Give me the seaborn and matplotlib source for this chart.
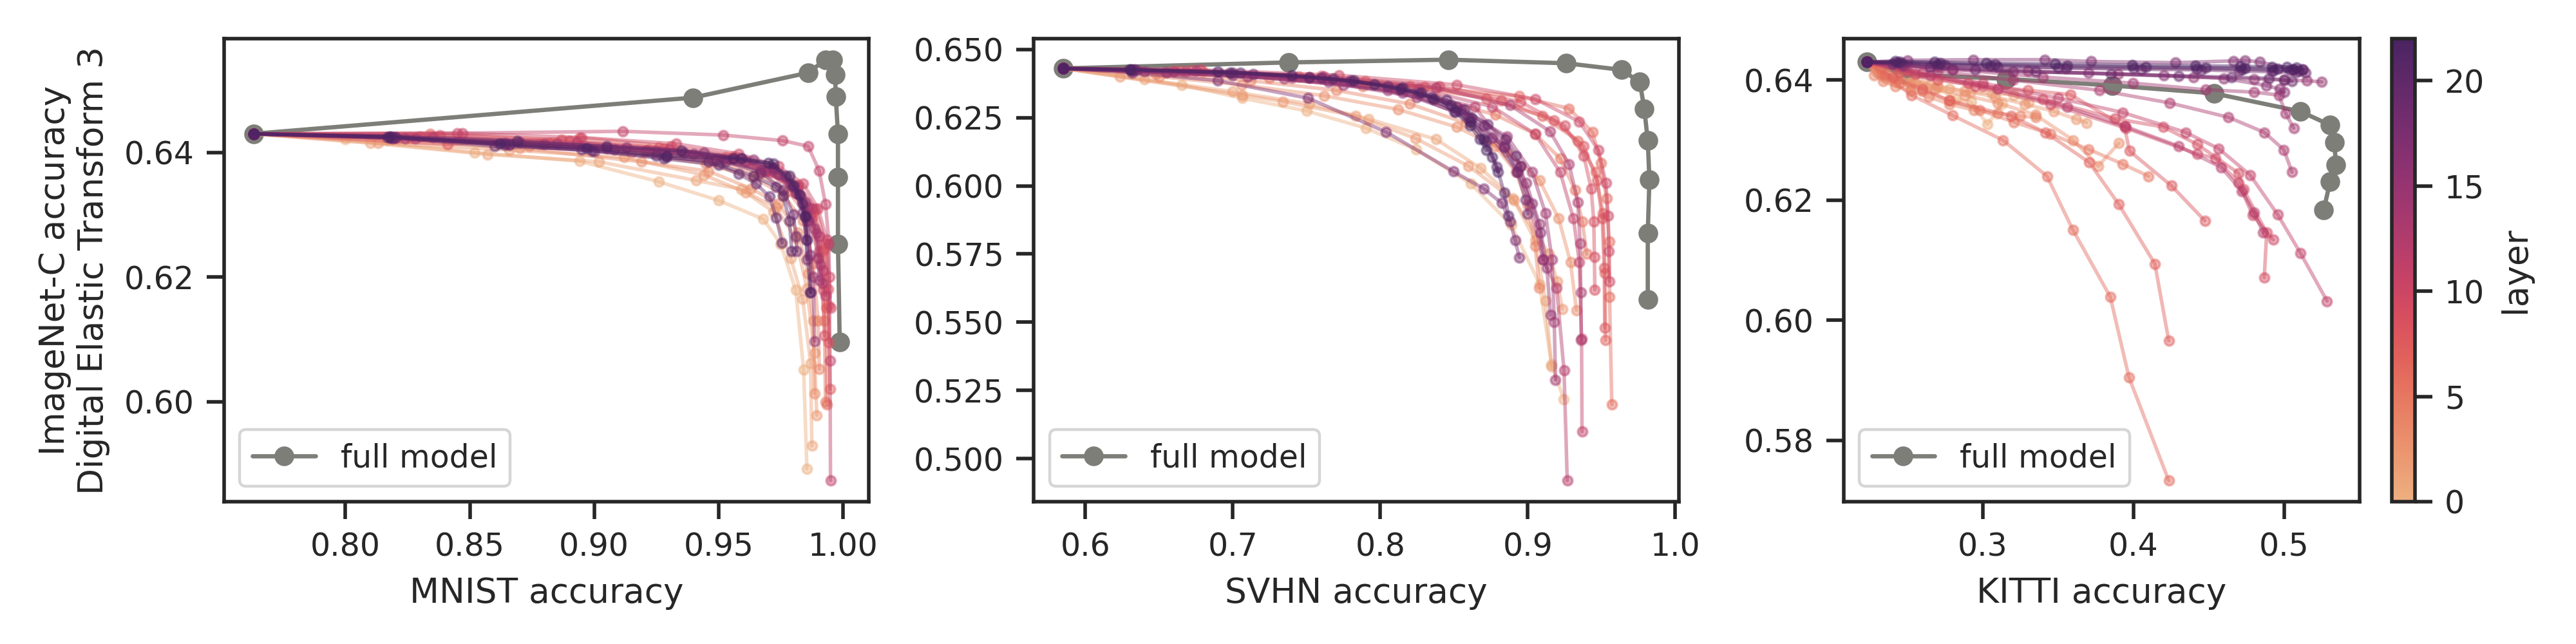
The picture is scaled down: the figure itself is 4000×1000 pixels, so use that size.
import numpy as np
import pandas as pd
import seaborn as sns
import matplotlib.pyplot as plt
from matplotlib.colors import Normalize
from matplotlib.cm import ScalarMappable

### data ###

layers = list(range(23))

# full model interpolation curves
mnist_full_x = [0.763, 0.9396, 0.986, 0.993, 0.996, 0.9969, 0.9971, 0.998, 0.998, 0.998, 0.9987]
mnist_full_y = [0.643, 0.6488, 0.6528, 0.6549, 0.6549, 0.6525, 0.649, 0.643, 0.636, 0.6253, 0.6096]

svhn_full_x = [0.585, 0.738, 0.846, 0.926, 0.9635, 0.976, 0.979, 0.9814, 0.9825, 0.9814, 0.9814]
svhn_full_y = [0.643, 0.6452, 0.6462, 0.6449, 0.6425, 0.638, 0.6283, 0.6166, 0.6023, 0.5826, 0.5584]

kitti_full_x = [0.2231, 0.2465, 0.3156, 0.3859, 0.4533, 0.5107, 0.5306, 0.5333, 0.5344, 0.5305, 0.5263]
kitti_full_y = [0.643, 0.641, 0.6402, 0.6391, 0.6378, 0.6348, 0.6325, 0.6296, 0.6259, 0.6231, 0.6184]

# per-layer curves (one list per layer 0..22)
mnist_x = [
    [0.763, 0.800, 0.852, 0.894, 0.926, 0.950, 0.968, 0.975, 0.981, 0.9842, 0.9855],
    [0.763, 0.810, 0.857, 0.902, 0.941, 0.959, 0.972, 0.979, 0.9838, 0.9870, 0.9875],
    [0.763, 0.813, 0.866, 0.912, 0.944, 0.961, 0.973, 0.981, 0.9855, 0.9885, 0.9895],
    [0.763, 0.817, 0.870, 0.919, 0.946, 0.963, 0.974, 0.982, 0.9860, 0.9880, 0.9885],
    [0.763, 0.821, 0.874, 0.915, 0.945, 0.964, 0.976, 0.984, 0.9880, 0.9900, 0.9905],
    [0.763, 0.826, 0.878, 0.920, 0.948, 0.966, 0.978, 0.986, 0.9905, 0.9925, 0.9930],
    [0.763, 0.830, 0.882, 0.922, 0.950, 0.968, 0.980, 0.987, 0.9915, 0.9932, 0.9936],
    [0.763, 0.834, 0.887, 0.926, 0.953, 0.970, 0.981, 0.988, 0.9925, 0.9942, 0.9948],
    [0.763, 0.841, 0.894, 0.931, 0.956, 0.972, 0.982, 0.989, 0.9930, 0.9940, 0.9944],
    [0.763, 0.838, 0.890, 0.928, 0.955, 0.971, 0.9815, 0.9875, 0.9905, 0.9920, 0.9926],
    [0.763, 0.845, 0.895, 0.933, 0.958, 0.974, 0.984, 0.990, 0.9935, 0.9945, 0.9950],
    [0.763, 0.847, 0.9115, 0.9519, 0.9758, 0.986, 0.9904, 0.9930, 0.9944, 0.9948, 0.9950],
    [0.763, 0.835, 0.893, 0.930, 0.956, 0.972, 0.982, 0.9875, 0.9905, 0.9920, 0.9930],
    [0.763, 0.828, 0.885, 0.925, 0.952, 0.969, 0.980, 0.986, 0.9895, 0.9910, 0.9918],
    [0.763, 0.824, 0.880, 0.921, 0.949, 0.967, 0.979, 0.985, 0.9885, 0.9900, 0.9905],
    [0.763, 0.819, 0.866, 0.908, 0.940, 0.961, 0.974, 0.981, 0.9855, 0.9880, 0.9886],
    [0.763, 0.820, 0.870, 0.913, 0.944, 0.964, 0.977, 0.983, 0.9860, 0.9868, 0.9870],
    [0.763, 0.818, 0.864, 0.905, 0.936, 0.959, 0.972, 0.980, 0.9840, 0.9852, 0.9855],
    [0.763, 0.819, 0.866, 0.900, 0.929, 0.953, 0.967, 0.976, 0.9800, 0.9812, 0.9814],
    [0.763, 0.818, 0.860, 0.895, 0.925, 0.946, 0.958, 0.965, 0.9705, 0.9732, 0.9755],
    [0.763, 0.820, 0.864, 0.899, 0.928, 0.950, 0.964, 0.973, 0.9760, 0.9785, 0.9794],
    [0.763, 0.818, 0.869, 0.905, 0.935, 0.959, 0.972, 0.980, 0.9838, 0.9850, 0.9855],
    [0.763, 0.817, 0.862, 0.897, 0.929, 0.956, 0.970, 0.9785, 0.9824, 0.9847, 0.9869],
]
mnist_y = [
    [0.643, 0.6421, 0.6400, 0.6386, 0.6353, 0.6323, 0.6293, 0.6253, 0.6179, 0.6051, 0.5892],
    [0.643, 0.6415, 0.6397, 0.6385, 0.6355, 0.6341, 0.6305, 0.6230, 0.6165, 0.6062, 0.5929],
    [0.643, 0.6415, 0.6404, 0.6392, 0.6364, 0.6336, 0.6312, 0.6262, 0.6182, 0.6078, 0.5978],
    [0.643, 0.6420, 0.6407, 0.6385, 0.6370, 0.6342, 0.6318, 0.6272, 0.6205, 0.6130, 0.6013],
    [0.643, 0.6422, 0.6410, 0.6400, 0.6382, 0.6360, 0.6332, 0.6290, 0.6222, 0.6130, 0.6052],
    [0.643, 0.6424, 0.6413, 0.6402, 0.6386, 0.6365, 0.6338, 0.6296, 0.6230, 0.6130, 0.6000],
    [0.643, 0.6426, 0.6415, 0.6405, 0.6390, 0.6370, 0.6343, 0.6300, 0.6240, 0.6150, 0.5995],
    [0.643, 0.6430, 0.6420, 0.6408, 0.6393, 0.6372, 0.6345, 0.6305, 0.6245, 0.6154, 0.6020],
    [0.643, 0.6413, 0.6424, 0.6410, 0.6394, 0.6375, 0.6348, 0.6310, 0.6254, 0.6180, 0.6095],
    [0.643, 0.6428, 0.6418, 0.6406, 0.6390, 0.6368, 0.6335, 0.6295, 0.6242, 0.6179, 0.6106],
    [0.643, 0.6431, 0.6424, 0.6414, 0.6398, 0.6378, 0.6350, 0.6310, 0.6260, 0.6200, 0.6150],
    [0.643, 0.6431, 0.6434, 0.6428, 0.6419, 0.6410, 0.6371, 0.6317, 0.6253, 0.6066, 0.5873],
    [0.643, 0.6425, 0.6416, 0.6405, 0.6390, 0.6372, 0.6345, 0.6310, 0.6265, 0.6210, 0.6170],
    [0.643, 0.6423, 0.6414, 0.6403, 0.6388, 0.6370, 0.6345, 0.6312, 0.6270, 0.6220, 0.6190],
    [0.643, 0.6422, 0.6413, 0.6403, 0.6388, 0.6372, 0.6350, 0.6320, 0.6278, 0.6230, 0.6195],
    [0.643, 0.6423, 0.6413, 0.6405, 0.6398, 0.6386, 0.6365, 0.6335, 0.6290, 0.6200, 0.6097],
    [0.643, 0.6424, 0.6416, 0.6408, 0.6400, 0.6388, 0.6362, 0.6330, 0.6290, 0.6235, 0.6175],
    [0.643, 0.6425, 0.6415, 0.6407, 0.6400, 0.6390, 0.6375, 0.6345, 0.6305, 0.6260, 0.6228],
    [0.643, 0.6424, 0.6412, 0.6402, 0.6392, 0.6385, 0.6368, 0.6340, 0.6300, 0.6265, 0.6242],
    [0.643, 0.6424, 0.6410, 0.6405, 0.6395, 0.6385, 0.6366, 0.6350, 0.6329, 0.6295, 0.6255],
    [0.643, 0.6425, 0.6412, 0.6403, 0.6390, 0.6380, 0.6362, 0.6345, 0.6330, 0.6290, 0.6242],
    [0.643, 0.6426, 0.6418, 0.6410, 0.6403, 0.6390, 0.6382, 0.6347, 0.6318, 0.6297, 0.6259],
    [0.643, 0.6425, 0.6414, 0.6407, 0.6395, 0.6390, 0.6383, 0.6362, 0.6333, 0.6297, 0.6175],
]

svhn_x = [
    [0.585, 0.6656, 0.7066, 0.7503, 0.7904, 0.8243, 0.8614, 0.8888, 0.9081, 0.9161, 0.9245],
    [0.585, 0.640, 0.700, 0.752, 0.792, 0.838, 0.868, 0.890, 0.905, 0.912, 0.9162],
    [0.585, 0.6237, 0.7066, 0.7339, 0.7831, 0.8239, 0.8596, 0.8906, 0.9143, 0.9200, 0.9234],
    [0.585, 0.650, 0.706, 0.762, 0.812, 0.852, 0.886, 0.908, 0.921, 0.929, 0.9330],
    [0.585, 0.648, 0.712, 0.770, 0.820, 0.858, 0.878, 0.892, 0.900, 0.905, 0.9079],
    [0.585, 0.655, 0.725, 0.788, 0.838, 0.878, 0.905, 0.922, 0.932, 0.937, 0.9400],
    [0.585, 0.680, 0.790, 0.8943, 0.928, 0.944, 0.9497, 0.9534, 0.9552, 0.9555, 0.9570],
    [0.585, 0.660, 0.745, 0.820, 0.872, 0.910, 0.934, 0.946, 0.951, 0.9525, 0.9527],
    [0.585, 0.665, 0.752, 0.830, 0.882, 0.918, 0.938, 0.947, 0.9505, 0.9518, 0.9522],
    [0.585, 0.672, 0.760, 0.840, 0.895, 0.925, 0.938, 0.943, 0.9448, 0.9452, 0.9455],
    [0.585, 0.678, 0.772, 0.852, 0.905, 0.935, 0.948, 0.953, 0.9545, 0.9550, 0.9553],
    [0.585, 0.668, 0.752, 0.826, 0.876, 0.905, 0.922, 0.931, 0.935, 0.9365, 0.9368],
    [0.585, 0.660, 0.740, 0.812, 0.864, 0.8953, 0.9104, 0.9196, 0.9246, 0.9268],
    [0.585, 0.675, 0.762, 0.838, 0.888, 0.915, 0.928, 0.934, 0.9355, 0.9360, 0.9363],
    [0.585, 0.655, 0.735, 0.805, 0.855, 0.886, 0.903, 0.912, 0.9165, 0.9180, 0.9188],
    [0.585, 0.640, 0.710, 0.775, 0.825, 0.860, 0.884, 0.899, 0.908, 0.913, 0.9154],
    [0.585, 0.632, 0.700, 0.765, 0.815, 0.850, 0.876, 0.893, 0.903, 0.9085, 0.9104],
    [0.585, 0.632, 0.690, 0.7512, 0.804, 0.8495, 0.870, 0.8823, 0.888, 0.8915, 0.8943],
    [0.585, 0.635, 0.714, 0.780, 0.826, 0.852, 0.870, 0.884, 0.893, 0.8985, 0.9000],
    [0.585, 0.633, 0.700, 0.760, 0.805, 0.835, 0.857, 0.873, 0.885, 0.8920, 0.8953],
    [0.585, 0.632, 0.705, 0.768, 0.815, 0.845, 0.862, 0.872, 0.879, 0.8840, 0.8870],
    [0.585, 0.631, 0.698, 0.752, 0.796, 0.828, 0.848, 0.861, 0.870, 0.876, 0.8800],
    [0.585, 0.630, 0.690, 0.740, 0.782, 0.814, 0.836, 0.851, 0.861, 0.8675, 0.8720],
]
svhn_y = [
    [0.643, 0.6369, 0.6321, 0.6274, 0.6211, 0.6133, 0.6008, 0.5857, 0.5639, 0.5346, 0.5218],
    [0.643, 0.6390, 0.6345, 0.6300, 0.6245, 0.6170, 0.6065, 0.5955, 0.5800, 0.5580, 0.5339],
    [0.643, 0.6399, 0.6332, 0.6309, 0.6256, 0.6174, 0.6073, 0.5948, 0.5752, 0.5650, 0.5549],
    [0.643, 0.6400, 0.6370, 0.6330, 0.6280, 0.6215, 0.6125, 0.6020, 0.5880, 0.5720, 0.5544],
    [0.643, 0.6410, 0.6385, 0.6350, 0.6300, 0.6230, 0.6145, 0.6050, 0.5930, 0.5780, 0.5626],
    [0.643, 0.6415, 0.6395, 0.6365, 0.6320, 0.6260, 0.6190, 0.6100, 0.5985, 0.5870, 0.5750],
    [0.643, 0.6418, 0.6383, 0.6328, 0.6283, 0.6196, 0.6083, 0.5955, 0.5797, 0.5594, 0.5199],
    [0.643, 0.6422, 0.6400, 0.6365, 0.6320, 0.6255, 0.6165, 0.6050, 0.5900, 0.5680, 0.5434],
    [0.643, 0.6420, 0.6398, 0.6362, 0.6312, 0.6240, 0.6145, 0.6020, 0.5880, 0.5700, 0.5479],
    [0.643, 0.6423, 0.6402, 0.6365, 0.6308, 0.6220, 0.6110, 0.5990, 0.5870, 0.5740, 0.5619],
    [0.643, 0.6425, 0.6405, 0.6370, 0.6318, 0.6235, 0.6130, 0.6010, 0.5890, 0.5760, 0.5650],
    [0.643, 0.6418, 0.6395, 0.6355, 0.6290, 0.6190, 0.6050, 0.5880, 0.5720, 0.5440, 0.5099],
    [0.643, 0.6418, 0.6395, 0.6352, 0.6290, 0.6071, 0.5729, 0.5626, 0.5324, 0.4920],
    [0.643, 0.6422, 0.6400, 0.6360, 0.6295, 0.6200, 0.6080, 0.5940, 0.5790, 0.5610, 0.5434],
    [0.643, 0.6416, 0.6392, 0.6350, 0.6280, 0.6180, 0.6050, 0.5900, 0.5730, 0.5500, 0.5289],
    [0.643, 0.6418, 0.6400, 0.6370, 0.6325, 0.6250, 0.6145, 0.6010, 0.5860, 0.5700, 0.5526],
    [0.643, 0.6420, 0.6405, 0.6380, 0.6340, 0.6272, 0.6175, 0.6050, 0.5935, 0.5830, 0.5729],
    [0.643, 0.6415, 0.6385, 0.6321, 0.6197, 0.6053, 0.5990, 0.5937, 0.5870, 0.5800, 0.5737],
    [0.643, 0.6423, 0.6410, 0.6385, 0.6340, 0.6290, 0.6220, 0.6140, 0.6050, 0.5950, 0.5898],
    [0.643, 0.6425, 0.6415, 0.6395, 0.6365, 0.6325, 0.6280, 0.6225, 0.6170, 0.6110, 0.6071],
    [0.643, 0.6424, 0.6413, 0.6392, 0.6360, 0.6315, 0.6250, 0.6165, 0.6070, 0.5975, 0.5891],
    [0.643, 0.6425, 0.6415, 0.6398, 0.6372, 0.6340, 0.6295, 0.6235, 0.6170, 0.6105, 0.6050],
    [0.643, 0.6426, 0.6418, 0.6405, 0.6385, 0.6355, 0.6318, 0.6270, 0.6220, 0.6170, 0.6130],
]

kitti_x = [
    [0.2231, 0.2300, 0.2351, 0.2417, 0.2516, 0.2604, 0.2702, 0.2823, 0.2922, 0.3031, 0.3130],
    [0.2231, 0.2290, 0.2360, 0.2440, 0.2540, 0.2650, 0.2780, 0.2920, 0.3060, 0.3207, 0.3305],
    [0.2231, 0.2320, 0.2420, 0.2550, 0.2700, 0.2880, 0.3080, 0.3280, 0.3470, 0.3620, 0.3689],
    [0.2231, 0.2310, 0.2400, 0.2520, 0.2680, 0.2880, 0.3100, 0.3350, 0.3600, 0.3766, 0.3903],
    [0.2231, 0.2280, 0.2340, 0.2420, 0.2520, 0.2640, 0.2780, 0.2940, 0.3100, 0.3250, 0.3350],
    [0.2231, 0.2330, 0.2450, 0.2600, 0.2779, 0.2980, 0.3207, 0.3450, 0.3700, 0.3930, 0.4100],
    [0.2231, 0.2350, 0.2527, 0.2801, 0.3134, 0.3426, 0.3597, 0.3846, 0.3970, 0.4234],
    [0.2231, 0.2400, 0.2600, 0.2779, 0.3189, 0.3415, 0.3706, 0.3903, 0.4142, 0.4234],
    [0.2231, 0.2450, 0.2700, 0.3000, 0.3300, 0.3580, 0.3940, 0.3973, 0.4252, 0.4473],
    [0.2231, 0.2500, 0.2900, 0.3400, 0.3875, 0.4197, 0.4423, 0.4697, 0.4730, 0.4884, 0.4868],
    [0.2231, 0.2550, 0.2950, 0.3450, 0.3950, 0.4423, 0.4544, 0.4697, 0.4791, 0.4928],
    [0.2231, 0.2600, 0.3000, 0.3500, 0.3930, 0.4346, 0.4565, 0.4774, 0.4957, 0.5108, 0.5285],
    [0.2231, 0.2650, 0.3100, 0.3560, 0.3945, 0.4300, 0.4580, 0.4720, 0.4800, 0.4860],
    [0.2231, 0.2700, 0.3200, 0.3776, 0.4241, 0.4631, 0.4868, 0.4998, 0.5052],
    [0.2231, 0.2800, 0.3400, 0.3995, 0.4478, 0.4800, 0.4965, 0.5010, 0.5063],
    [0.2231, 0.2700, 0.3300, 0.3900, 0.4400, 0.4800, 0.5000, 0.5150, 0.5250],
    [0.2231, 0.2470, 0.2800, 0.3200, 0.3700, 0.4200, 0.4600, 0.4880, 0.4970, 0.5000],
    [0.2231, 0.2500, 0.2937, 0.3411, 0.3720, 0.4280, 0.4665, 0.4740, 0.4840, 0.5060, 0.5125],
    [0.2231, 0.2460, 0.2750, 0.3100, 0.3550, 0.4050, 0.4450, 0.4700, 0.4920, 0.5080, 0.5140],
    [0.2231, 0.2400, 0.2650, 0.2950, 0.3350, 0.3850, 0.4300, 0.4650, 0.4900, 0.5000, 0.5050],
    [0.2231, 0.2430, 0.2700, 0.3050, 0.3500, 0.4000, 0.4420, 0.4720, 0.4930, 0.5040, 0.5100],
    [0.2231, 0.2450, 0.2720, 0.3080, 0.3560, 0.4080, 0.4480, 0.4740, 0.4960, 0.5060, 0.5120],
    [0.2231, 0.2420, 0.2680, 0.3020, 0.3480, 0.3990, 0.4410, 0.4710, 0.4920, 0.5020, 0.5080],
]
kitti_y = [
    [0.643, 0.6418, 0.6404, 0.6397, 0.6395, 0.6393, 0.6386, 0.6368, 0.6364, 0.6326, 0.6361],
    [0.643, 0.6420, 0.6410, 0.6403, 0.6398, 0.6392, 0.6385, 0.6380, 0.6378, 0.6375, 0.6363],
    [0.643, 0.6415, 0.6405, 0.6398, 0.6390, 0.6382, 0.6372, 0.6360, 0.6348, 0.6335, 0.6329],
    [0.643, 0.6412, 0.6400, 0.6392, 0.6385, 0.6375, 0.6362, 0.6342, 0.6300, 0.6257, 0.6295],
    [0.643, 0.6408, 0.6398, 0.6390, 0.6382, 0.6372, 0.6360, 0.6350, 0.6345, 0.6340, 0.6338],
    [0.643, 0.6410, 0.6395, 0.6382, 0.6366, 0.6350, 0.6330, 0.6310, 0.6285, 0.6260, 0.6240],
    [0.643, 0.6408, 0.6375, 0.6341, 0.6300, 0.6240, 0.6151, 0.6039, 0.5905, 0.5733],
    [0.643, 0.6405, 0.6385, 0.6366, 0.6340, 0.6313, 0.6263, 0.6193, 0.6094, 0.5966],
    [0.643, 0.6412, 0.6400, 0.6390, 0.6383, 0.6376, 0.6323, 0.6282, 0.6224, 0.6166],
    [0.643, 0.6415, 0.6395, 0.6368, 0.6336, 0.6322, 0.6293, 0.6245, 0.6218, 0.6146, 0.6071],
    [0.643, 0.6410, 0.6390, 0.6360, 0.6320, 0.6277, 0.6270, 0.6229, 0.6175, 0.6134],
    [0.643, 0.6412, 0.6395, 0.6370, 0.6346, 0.6313, 0.6286, 0.6242, 0.6176, 0.6112, 0.6032],
    [0.643, 0.6408, 0.6385, 0.6355, 0.6323, 0.6290, 0.6255, 0.6215, 0.6180, 0.6146],
    [0.643, 0.6415, 0.6400, 0.6383, 0.6362, 0.6338, 0.6313, 0.6284, 0.6247],
    [0.643, 0.6418, 0.6405, 0.6395, 0.6384, 0.6380, 0.6375, 0.6345, 0.6320],
    [0.643, 0.6422, 0.6415, 0.6410, 0.6405, 0.6402, 0.6400, 0.6399, 0.6397],
    [0.643, 0.6424, 0.6418, 0.6414, 0.6412, 0.6408, 0.6403, 0.6391, 0.6385, 0.6380],
    [0.643, 0.6433, 0.6434, 0.6434, 0.6431, 0.6429, 0.6432, 0.6433, 0.6430, 0.6418, 0.6418],
    [0.643, 0.6428, 0.6425, 0.6422, 0.6420, 0.6418, 0.6417, 0.6415, 0.6414, 0.6413, 0.6412],
    [0.643, 0.6427, 0.6422, 0.6418, 0.6414, 0.6410, 0.6407, 0.6405, 0.6403, 0.6400, 0.6398],
    [0.643, 0.6429, 0.6426, 0.6424, 0.6421, 0.6420, 0.6419, 0.6418, 0.6416, 0.6416, 0.6415],
    [0.643, 0.6430, 0.6428, 0.6426, 0.6424, 0.6422, 0.6421, 0.6420, 0.6419, 0.6418, 0.6418],
    [0.643, 0.6431, 0.6430, 0.6428, 0.6427, 0.6425, 0.6424, 0.6423, 0.6422, 0.6422, 0.6421],
]

GRAY = "#7e7e79"

### functions ###

def long_form(xs, ys):
    rows = []
    for layer, xl, yl in zip(layers, xs, ys):
        assert len(xl) == len(yl), layer
        for step, (a, b) in enumerate(zip(xl, yl)):
            rows.append({"layer": layer, "step": step, "target": a, "inet": b})
    return pd.DataFrame(rows)

#################

sns.set_theme(style="ticks", context="paper")

fig, axes = plt.subplots(1, 3, figsize=(10, 2.5), dpi=400)
fig.subplots_adjust(left=0.087, right=0.966, bottom=0.221, top=0.94, wspace=0.2555)

panels = [
    ("MNIST", mnist_x, mnist_y, mnist_full_x, mnist_full_y),
    ("SVHN", svhn_x, svhn_y, svhn_full_x, svhn_full_y),
    ("KITTI", kitti_x, kitti_y, kitti_full_x, kitti_full_y),
]

for ax, (name, xs, ys, fx, fy) in zip(axes, panels):
    sns.lineplot(
        x=fx, y=fy, ax=ax, color=GRAY, marker="o", markersize=5,
        linewidth=1.2, markeredgecolor=GRAY, markeredgewidth=0.5,
        sort=False, estimator=None, label="full model"
    )
    df = long_form(xs, ys)
    sns.lineplot(
        data=df, x="target", y="inet", hue="layer",
        palette="flare", hue_norm=(0, 22),
        estimator=None, sort=False, marker="o", markersize=2.6,
        linewidth=1, alpha=0.45, markeredgecolor=None, markeredgewidth=0.7,
        legend=False, ax=ax
    )
    ax.set_xlabel(f"{name} accuracy")
    ax.set_ylabel("")
    ax.legend(loc="lower left")

axes[0].set_ylabel("ImageNet-C accuracy\nDigital Elastic Transform 3")

sm = ScalarMappable(norm=Normalize(0, 22), cmap=sns.color_palette("flare", as_cmap=True))
sm.set_array([])
cbar = fig.colorbar(sm, ax=axes[2], label="layer")
cbar.set_ticks([0, 5, 10, 15, 20])

fig.savefig("out.png", dpi=400)
